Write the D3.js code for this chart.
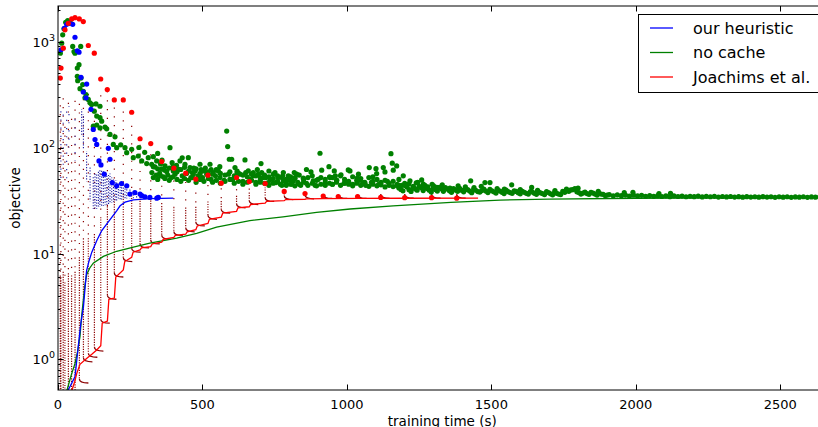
<!DOCTYPE html>
<html>
<head>
<meta charset="utf-8">
<script src="https://cdn.jsdelivr.net/npm/d3@7"></script>
<style>
  body { margin: 0; background: #fff; }
  svg { display: block; font-family: "DejaVu Sans", sans-serif; }
</style>
</head>
<body>
<div id="chart"></div>
<script>
// axes
var xTicks = [0, 500, 1000, 1500, 2000, 2500];
var yTicks = [1, 10, 100, 1000];
var yExponents = ["0", "1", "2", "3"];
var legendLabels = ["our heuristic", "no cache", "Joachims et al."];
var legendColors = ["#0000ff", "#008000", "#ff0000"];

// lower bounds (lines), [time, objective]
var heuristicBound = [[30,0.35],[36,0.52],[59,0.69],[70,1.32],[79,2.19],[88,3.13],[93,4.5],[99,6.9],[108,8.6],[117,10.3],[134,13.2],[151,16.4],[169,19.0],[186,21.9],[203,25.3],[215,28.2],[232,30.5],[261,32.1],[318,33.0],[399,33.3]];
var noCacheBound = [[22,0.35],[30,0.5],[45,0.7],[59,0.92],[68,1.2],[76,1.64],[82,2.6],[88,3.7],[93,5.0],[99,6.3],[110,7.3],[122,8.1],[157,9.4],[203,10.5],[261,11.5],[318,12.5],[411,14.0],[480,15.5],[549,17.7],[664,20.4],[779,22.2],[895,24.4],[1011,26.3],[1160,28.2],[1360,30.3],[1530,31.9],[1700,32.6],[2000,33.2],[2300,33.5],[2660,33.8]];
var joachimsBound = [[40,0.3],[47,0.5],[58,0.62],[65,0.74],[76,0.9],[99,1.02],[117,1.12],[134,1.23],[148,1.35],[153,2.2],[171,2.3],[176,3.7],[195,3.8],[200,6.0],[226,7.0],[231,8.4],[255,9.2],[260,10.3],[284,10.8],[289,11.3],[321,11.6],[326,12.3],[359,12.8],[364,13.6],[401,14.2],[406,14.8],[442,15.2],[447,16.0],[477,16.8],[482,18.2],[519,19.2],[524,21.0],[565,22.0],[570,24.0],[618,25.0],[623,27.0],[662,27.6],[667,29.0],[717,29.8],[722,31.0],[783,31.5],[788,32.3],[855,32.5],[860,32.8],[918,33.0],[1037,33.1],[1200,33.2],[1454,33.3]];

// primal objective (big dots)
var heuristicObj = [[10.4,836],[21.8,1333],[30.1,1454],[39.1,1486],[50.9,1454],[58.8,1097],[66.8,818],[72.7,793],[79.6,459],[99.3,397],[87.6,334],[96.9,294],[114.2,229],[122.2,148],[128.1,119],[134,107],[141.9,74.7],[148.8,68.5],[160.2,56.0],[174.1,98.3],[180,77.5],[187.9,46.7],[203,43.5],[220,45.7],[238,43.5],[249,36.4],[266,37.6],[284,36.4],[290,35.1],[301,34.3],[318,33.8],[342,33.3],[347,33.8]];
var joachimsObj = [[8,452],[10.4,561],[18.3,865],[24.2,1288],[35.6,1486],[47.4,1634],[58.8,1680],[73.7,1634],[87.6,1541],[104.9,917],[125.6,777],[147.8,443],[170.6,352],[194.9,281],[226,281],[255,215],[284,121],[321,109],[359,73.6],[401,63.8],[442,57.3],[477,50.3],[519,54.8],[565,46.1],[618,52.0],[662,47.7],[717,45.7],[783,38.5],[855,36.8],[918,34.8],[970,34.5],[1037,34.5],[1117,33.8],[1200,33.6],[1293,33.6],[1380,33.3]];
var noCacheObj = [
  [8,776],[12.8,964],[16.3,1156],[20.8,1316],[26.6,1518],[33.6,1574],[41.5,1541],[50.9,898],[55.4,805],[58.8,776],[66.8,561],[72.7,604],[78.6,898],[66.8,469],[79.6,452],[68.2,427],[85.5,392],[76.1,359],[87.6,339],[96.9,316],[93.4,294],[104.9,284],[110.8,264],[116.6,255],[131.5,258],[145.4,245],[125.6,220],[134,198],[145.4,191],[151.2,177],[122.2,159],[134,163],[145.4,153],[162.7,156],[168.6,150],[180,133],[197.3,126],[191.4,107],[203.2,99.6],[217,106],[231.9,99.6],[237.8,89.3],[255.1,96.2],[260.6,80.2],[277.9,83.2],[289.7,74.7],[307,70.5],[312.5,80.2],[324.3,69.5],[335.7,65.6],[341.6,74.7],[358.9,62.4],[370.3,67],[387.6,99.6],[376.2,59.3],[399,60.1],[416.4,62.4],[422.2,74.7],[439.5,69.5],[451,80.2],[456.9,64.6],[468.3,56],[491.5,69.5],[502.9,60.1],[514.7,56],[526.1,69.5],[537.5,58],[554.8,60.1],[560.7,52],[583.9,143],[587.3,102],[592.9,77.5],[601.2,77.5],[612.6,64.6],[629.9,56],[647.2,76.3],[658.6,60.1],[675.9,54],[693.2,56],[710.6,52],[727.9,46.7],[745.2,56],[762.5,52],[779.8,48.5],[797.1,54],[814.4,48.5],[826.1,56],
  [702.6,70.5],[705,58],[676,58],[751,58],[754.5,46.7],[777.7,54],[800.5,49.2],[817.8,58],[820.3,52],[849,51.4],[875.6,58.9],[883.6,48.5],[906.8,88.3],[912.7,61.1],[937.9,66],[941.4,52],[956.3,60.1],[979.5,55.2],[1004.7,61.5],[1010.6,60.1],[1035.9,51.4],[1056.7,46.7],[1077.4,64.6],[1100.6,63.2],[1103,56.8],[1125.9,64.6],[1131.7,58.9],[1152.5,87.5],[1157,71.1],[1172.2,67],[1160.5,61.1],[1195.1,54],[1218.3,48.5],[1258.8,49.5],[1264.3,45.1],[1310.7,42],[1356.7,41.4],[1428.4,48.5],[1477.8,46.7],[1495.2,46.7],[1570.3,44.5],[1639.5,42],
  [325,58],[340,55],[352,57],[365,53],[380,55],[392,52],[405,56],[430,54],[445,57],[460,52],[475,60],[485,54],[500,52],[510,64],[530,50],[545,54],[575,49],[590,56],[605,50],[620,58],[640,48],[665,50],[685,47],[700,49],[720,52],[735,50],[770,45],[790,44],[810,45],[830,47],[840,44],[860,46],[890,44],[900,50],[925,47],[950,45],[965,49],[990,46],[1020,45],[1045,49],[1065,44],[1085,47],[1110,45],[1140,48],[1180,44],[1200,46],[1230,43],[1245,47],[1280,42.5],[1295,45],
  [280,100],[300,90],[330,82],[345,88],[360,76],[395,72],[410,68],[430,80],[470,64],[495,62],[530,62],[560,66],[620,60],[650,58],[690,62],[730,60],[780,58],[860,62],[960,54],[1040,56],[1090,53],[1180,50],
  [330,66],[345,63],[355,70],[370,61],[385,64],[398,66],[412,59],[425,62],[438,65],[452,60],[465,58],[478,63],[492,57],[505,61],[520,59],[535,56],[548,62],[562,57],[578,55],[595,59],[610,54],[625,57],[640,55],[655,53],[670,56],[685,54],[700,52],[715,55],[730,53],[745,51],[760,54],[775,52],[790,50],[805,53],[820,51],[835,55],[850,50],[865,52],[880,54],[895,49],[910,52],[925,50],[940,53],
  [330,52],[345,50],[355,54],[370,51],[385,49],[398,53],[412,50],[425,48],[438,51],[452,49],[465,52],[478,47],[492,50],[505,48],[520,51],[535,47],[548,49],[562,46],[578,48],[595,50],[610,46],[625,48],[640,45],[655,47],[670,49],[685,45],[700,47],[715,46],[730,44],[745,46],[760,48],[775,44],[790,46],[805,45],[820,43.5],[835,45],[850,47],[865,44],[880,46],[895,43.5],[910,45],[925,44],[940,46],
  [950,52],[964,49],[978,54],[992,50],[1006,48],[1020,53],[1034,49],[1048,51],[1062,47],[1076,52],[1090,48],[1104,50],[1118,47],[1132,49],[1146,46],[1160,48],[1174,45],
  [950,45],[964,47],[978,44],[992,46],[1006,45],[1020,43.5],[1034,46],[1048,44],[1062,45.5],[1076,43],[1090,45],[1104,43.5],[1118,44.5],[1132,42.5],[1146,44],[1160,42.8],[1174,43.5],
  [1190,44],[1215,45.5],[1240,46.5],[1270,44],[1300,43.5],[1330,44.5],[1385,43.5],[1410,42.5],[1440,41.8],[1465,43],[1520,41],[1545,40.5],[1600,40],[1660,39.5],[1720,39.2],[1760,40.5],[1800,41.3],[1870,38.5],[1960,37.5],[1990,37.8],[2080,36.8],[2120,37.0],
  [1187,40.2],[1201,43.8],[1215,40.0],[1229,42.0],[1243,39.5],[1257,41.8],[1271,42.8],[1285,39.6],[1299,41.6],[1313,38.8],[1327,40.8],[1341,41.8],[1355,39.0],[1369,41.0],[1383,38.6],[1397,39.6],[1411,41.0],[1425,38.8],[1439,40.6],[1453,38.4],[1467,39.2],[1481,38.8],[1495,40.2],[1509,38.2],[1523,39.4],[1537,37.8],[1551,39.6],[1565,37.6],[1579,39.0],[1593,37.4],[1607,38.6],[1621,37.0],[1635,38.4],[1649,37.0],[1663,38.2],[1677,36.8],[1691,38.4],[1705,36.6],[1719,37.8],[1733,36.4],[1747,38.5],[1761,39.2],[1775,39.8],[1789,41.0],[1803,37.6],[1817,37.2],[1831,36.8],[1845,37.8],[1859,36.4],[1873,37.0],[1887,36.2],[1901,35.6],
  [1180,41.5],[1194,39.0],[1208,42.5],[1222,38.5],[1236,40.8],[1250,43.0],[1264,39.2],[1278,41.0],[1292,38.0],[1306,40.2],[1320,42.0],[1334,38.6],[1348,40.5],[1362,37.8],[1376,39.8],[1390,41.2],[1404,38.2],[1418,40.0],[1432,37.5],[1446,39.5],[1460,38.0],[1474,40.5],[1488,37.6],[1502,39.0],[1516,37.2],[1530,38.8],[1544,36.8],[1558,38.3],[1572,37.0],[1586,38.5],[1600,36.6],[1614,37.8],[1628,36.4],[1642,38.0],[1656,36.2],[1670,37.4],[1684,36.0],[1698,37.6],[1712,35.8],[1726,37.0],[1740,36.0],[1754,37.8],[1768,38.6],[1782,40.0],[1796,38.2],[1810,36.4],[1824,38.0],[1838,36.2],[1852,37.2],[1866,35.6],[1880,36.4],[1894,35.2],[1908,36.0],[1922,35.0],[1936,35.8],[1950,35.1],[1964,35.6],[1978,34.8],[1992,35.5],[2006,34.9],[2020,35.4],[2034,34.7],[2048,35.2],[2062,34.6],[2076,35.1],[2090,34.5],[2104,35.0],[2118,34.4],[2132,34.9],[2146,34.5],[2160,34.8],[2174,34.3],[2188,34.7],[2202,34.4],[2216,34.8],[2230,34.2],[2244,34.6],[2258,34.3],[2272,34.6],[2286,34.1],[2300,34.5],[2314,34.2],[2328,34.5],[2342,34.1],[2356,34.4],[2370,34.0],[2384,34.4],[2398,34.1],[2412,34.3],[2426,34.0],[2440,34.4],[2454,34.1],[2468,34.3],[2482,33.9],[2496,34.3],[2510,34.0],[2524,34.3],[2538,33.9],[2552,34.2],[2566,34.0],[2580,34.3],[2594,33.9],[2608,34.2],[2622,34.0],[2636,34.2],[2650,33.9],[2664,34.1]
];

// inner iterations, [time, first value, last value]
var joachimsInner = [[8,250,0.3],[10,200,0.3],[18,300,0.3],[24,180,0.3],[36,280,0.3],[47,220,0.3],[59,300,0.3],[74,260,0.6],[88,320,0.95],[105,330,1.05],[126,300,1.2],[148,330,2.2],[171,330,3.7],[195,260,6.0],[226,220,8.4],[255,180,10.3],[284,110,11.3],[321,100,12.3],[359,68,13.6],[401,58,14.8],[442,52,16],[477,46,18.2],[519,50,21],[565,43,24],[618,47,27],[662,44,29],[717,42,31],[783,37,32.3],[855,36,32.8],[918,34.5,33.05],[970,34.3,33.1],[1037,34.3,33.12],[1117,33.7,33.15],[1200,33.5,33.2],[1293,33.5,33.22],[1380,33.3,33.25]];
var heuristicInner = [[10,220,48],[18,230,60],[30,230,46],[38,245,100],[59,205,75],[82,230,128],[88,205,98],[99,92,48],[111,67,31],[122,54,26.5],[128,58,26.5],[134,57,26.5],[140,60,27],[145,62,27.6],[151,61,28],[157,60,28.2],[163,57,28.5],[169,54,28.8],[175,55,29.2],[180,57,29.5],[186,52,30.2],[192,50,30.8],[198,49,31.1],[203,48.5,31.5],[209,47.5,31.9],[215,46.7,32.2],[220,46,32.4],[226,45.7,32.6],[232,44.5,32.8],[238,43.5,33.0],[249,40.7,33.2],[261,38.8,33.3],[272,37,33.4],[284,35.4,33.5]];

var width = 818, height = 427;
var plot = {left: 58, top: 6, right: 826.5, bottom: 390};

var svg = d3.select("#chart")
    .append("svg")
    .attr("width", width)
    .attr("height", height);

var x = d3.scaleLinear()
    .domain([0, 2660])
    .range([plot.left, plot.right]);

var y = d3.scaleLog()
    .domain([0.5155, 2163])
    .range([plot.bottom, plot.top]);

svg.append("clipPath").attr("id", "clip")
    .append("rect")
    .attr("x", plot.left).attr("y", plot.top)
    .attr("width", plot.right - plot.left)
    .attr("height", plot.bottom - plot.top);

var g = svg.append("g").attr("clip-path", "url(#clip)");

// dark red inner iterations: sparse dotted drop, denser near the bound, small foot
var inner = g.append("g");
joachimsInner.forEach(function (d, i) {
    var px = x(d[0]), top = y(d[1]), bot = y(d[2]);
    var knee = Math.max(top, bot - Math.max(12, 0.45 * (bot - top)));
    inner.append("path")
        .attr("d", "M" + px + "," + top + "L" + px + "," + knee)
        .attr("stroke", "#8b0000").attr("stroke-width", 1.2)
        .attr("stroke-dasharray", "1.2,7.5")
        .attr("stroke-dashoffset", (i * 3.7) % 8.7)
        .attr("fill", "none");
    inner.append("path")
        .attr("d", "M" + px + "," + knee + "L" + px + "," + (bot - 4))
        .attr("stroke", "#8b0000").attr("stroke-width", 1.2)
        .attr("stroke-dasharray", "1.2,1.3").attr("fill", "none");
    inner.append("path")
        .attr("d", "M" + px + "," + (bot - 4) + "Q" + px + "," + bot + " " + (px + 9) + "," + bot)
        .attr("stroke", "#8b0000").attr("stroke-width", 1.3).attr("fill", "none");
});

heuristicInner.forEach(function (d, i) {
    var px = x(d[0]), top = y(d[1]), bot = y(d[2]);
    inner.append("path")
        .attr("d", "M" + px + "," + top + "L" + px + "," + bot)
        .attr("stroke", "#1a1aa0").attr("stroke-width", 1.1)
        .attr("stroke-dasharray", (bot - top) > 40 ? "1.2,7" : "1.2,1.6")
        .attr("stroke-dashoffset", (i * 2.9) % 8.2)
        .attr("fill", "none");
});

var line = d3.line()
    .x(function (d) { return x(d[0]); })
    .y(function (d) { return y(d[1]); });

g.append("path").datum(noCacheBound).attr("d", line)
    .attr("fill", "none").attr("stroke", "#008000").attr("stroke-width", 1.3);
g.append("path").datum(heuristicBound).attr("d", line)
    .attr("fill", "none").attr("stroke", "#0000ff").attr("stroke-width", 1.3);
g.append("path").datum(joachimsBound).attr("d", line)
    .attr("fill", "none").attr("stroke", "#ff0000").attr("stroke-width", 1.3);

function dots(data, color) {
    g.append("g").selectAll("circle")
        .data(data)
        .enter()
        .append("circle")
        .attr("cx", function (d) { return x(d[0]); })
        .attr("cy", function (d) { return y(d[1]); })
        .attr("r", 2.6)
        .attr("fill", color);
}
dots(noCacheObj, "#008000");
dots(heuristicObj, "#0000ff");
dots(joachimsObj, "#ff0000");

// frame
var frame = svg.append("g").attr("stroke", "#000").attr("fill", "none");
frame.append("rect")
    .attr("x", plot.left).attr("y", plot.top)
    .attr("width", plot.right - plot.left)
    .attr("height", plot.bottom - plot.top)
    .attr("stroke-width", 1);

// x ticks, inside, bottom and top
xTicks.forEach(function (t) {
    var px = Math.round(x(t)) + 0.5;
    frame.append("line").attr("x1", px).attr("x2", px)
        .attr("y1", plot.bottom).attr("y2", plot.bottom - 5.5);
    frame.append("line").attr("x1", px).attr("x2", px)
        .attr("y1", plot.top).attr("y2", plot.top + 5.5);
    svg.append("text")
        .attr("x", x(t)).attr("y", 408.5)
        .attr("text-anchor", "middle")
        .attr("font-size", 13)
        .text(t);
});

// y ticks (log), major + minor
var minor = [];
[0.1, 1, 10, 100, 1000].forEach(function (dec) {
    for (var k = 2; k <= 9; k++) minor.push(dec * k);
});
minor.filter(function (v) { return v > y.domain()[0] && v < y.domain()[1]; })
    .forEach(function (v) {
        var py = Math.round(y(v)) + 0.5;
        frame.append("line").attr("x1", plot.left).attr("x2", plot.left + 2.5)
            .attr("y1", py).attr("y2", py);
    });
yTicks.forEach(function (t, i) {
    var py = Math.round(y(t)) + 0.5;
    frame.append("line").attr("x1", plot.left).attr("x2", plot.left + 5.5)
        .attr("y1", py).attr("y2", py);
    var lab = svg.append("text")
        .attr("x", 55).attr("y", y(t) + 5)
        .attr("text-anchor", "end")
        .attr("font-size", 13);
    lab.append("tspan").text("10");
    lab.append("tspan").attr("dy", -6).attr("font-size", 9.5).text(yExponents[i]);
});

// axis labels
svg.append("text")
    .attr("x", (plot.left + plot.right) / 2).attr("y", 425.5)
    .attr("text-anchor", "middle")
    .attr("font-size", 13.5)
    .text("training time (s)");
svg.append("text")
    .attr("transform", "translate(20," + (plot.top + plot.bottom) / 2 + ")rotate(-90)")
    .attr("text-anchor", "middle")
    .attr("font-size", 13.5)
    .text("objective");

// legend
var legend = svg.append("g");
legend.append("rect")
    .attr("x", 638.5).attr("y", 14.5)
    .attr("width", 200).attr("height", 78)
    .attr("fill", "#fff").attr("stroke", "#000").attr("stroke-width", 1);
legendLabels.forEach(function (name, i) {
    var ly = 28 + i * 24.5;
    legend.append("line")
        .attr("x1", 650).attr("x2", 673)
        .attr("y1", ly).attr("y2", ly)
        .attr("stroke", legendColors[i]).attr("stroke-width", 1.3);
    legend.append("text")
        .attr("x", 693).attr("y", ly + 5.5)
        .attr("font-size", 16)
        .text(name);
});
</script>
</body>
</html>
